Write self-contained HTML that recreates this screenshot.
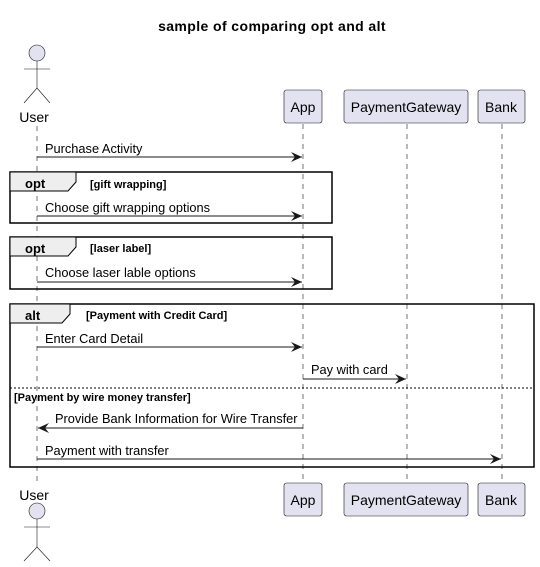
<!DOCTYPE html>
<html><head><meta charset="utf-8"><style>
html,body{margin:0;padding:0;background:#fff;}
svg{display:block;font-family:"Liberation Sans",sans-serif;}
</style></head><body>
<svg width="540" height="567" viewBox="0 0 540 567" xmlns="http://www.w3.org/2000/svg">
<defs>
<marker id="ah" markerWidth="12" markerHeight="10" refX="11" refY="5" orient="auto" markerUnits="userSpaceOnUse">
<path d="M0,0 L11,5 L0,10 L4,5 Z" fill="#181818"/>
</marker>
</defs>
<text x="272" y="31" text-anchor="middle" font-size="14" font-weight="bold" letter-spacing="0.4">sample of comparing opt and alt</text>

<g stroke="#181818" stroke-width="0.6" stroke-dasharray="5,5">
<line x1="37" y1="126" x2="37" y2="482"/>
<line x1="303" y1="124" x2="303" y2="483"/>
<line x1="407" y1="124" x2="407" y2="483"/>
<line x1="502" y1="124" x2="502" y2="483"/>
</g>

<g stroke="#181818" stroke-width="0.6" fill="none">
<circle cx="37" cy="53" r="8" fill="#E2E2F0"/>
<line x1="37" y1="61" x2="37" y2="88"/>
<line x1="24" y1="69" x2="50" y2="69"/>
<line x1="37" y1="88" x2="24" y2="103"/>
<line x1="37" y1="88" x2="50" y2="103"/>
</g>
<text x="34" y="122" text-anchor="middle" font-size="14">User</text>

<g fill="#E2E2F0" stroke="#181818" stroke-width="0.6">
<rect x="284" y="90" width="38" height="33" rx="2.5"/>
<rect x="344" y="90" width="124" height="33" rx="2.5"/>
<rect x="478" y="90" width="47" height="33" rx="2.5"/>
<rect x="284" y="483" width="38" height="33" rx="2.5"/>
<rect x="344" y="483" width="124" height="33" rx="2.5"/>
<rect x="478" y="483" width="47" height="33" rx="2.5"/>
</g>
<g font-size="14" text-anchor="middle">
<text x="303" y="112">App</text>
<text x="406" y="112">PaymentGateway</text>
<text x="501" y="112">Bank</text>
<text x="303" y="505">App</text>
<text x="406" y="505">PaymentGateway</text>
<text x="501" y="505">Bank</text>
</g>

<text x="34" y="500" text-anchor="middle" font-size="14">User</text>
<g stroke="#181818" stroke-width="0.6" fill="none">
<circle cx="37" cy="511" r="8" fill="#E2E2F0"/>
<line x1="37" y1="519" x2="37" y2="547"/>
<line x1="24" y1="527" x2="50" y2="527"/>
<line x1="37" y1="547" x2="24" y2="561"/>
<line x1="37" y1="547" x2="50" y2="561"/>
</g>

<g stroke="#000" stroke-width="1.5" fill="none">
<rect x="10" y="172" width="322" height="51"/>
<rect x="10" y="237" width="322" height="52"/>
<rect x="10" y="304" width="524" height="163"/>
</g>
<g fill="#EEEEEE" stroke="#000" stroke-width="1">
<path d="M10,172 L76,172 L76,182 L68,191 L10,191 Z"/>
<path d="M10,237 L76,237 L76,247 L68,256 L10,256 Z"/>
<path d="M10,304 L70,304 L70,314 L62,323 L10,323 Z"/>
</g>
<line x1="10" y1="388" x2="534" y2="388" stroke="#000" stroke-width="1" stroke-dasharray="2,2"/>
<g font-size="13" font-weight="bold">
<text x="25" y="188">opt</text>
<text x="25" y="253">opt</text>
<text x="25" y="320">alt</text>
</g>
<g font-size="11" font-weight="bold">
<text x="90" y="188">[gift wrapping]</text>
<text x="90" y="252">[laser label]</text>
<text x="86" y="319">[Payment with Credit Card]</text>
<text x="14" y="401">[Payment by wire money transfer]</text>
</g>

<g stroke="#181818" stroke-width="1" marker-end="url(#ah)">
<line x1="37" y1="157" x2="302" y2="157"/>
<line x1="37" y1="216" x2="302" y2="216"/>
<line x1="37" y1="282" x2="302" y2="282"/>
<line x1="37" y1="347" x2="302" y2="347"/>
<line x1="303" y1="379" x2="406" y2="379"/>
<line x1="303" y1="428" x2="38" y2="428"/>
<line x1="37" y1="459" x2="501" y2="459"/>
</g>
<g font-size="12.8">
<text x="45" y="153">Purchase Activity</text>
<text x="45" y="212">Choose gift wrapping options</text>
<text x="45" y="277">Choose laser lable options</text>
<text x="45" y="343">Enter Card Detail</text>
<text x="311" y="374">Pay with card</text>
<text x="55" y="423">Provide Bank Information for Wire Transfer</text>
<text x="45" y="455">Payment with transfer</text>
</g>
</svg>
</body></html>
